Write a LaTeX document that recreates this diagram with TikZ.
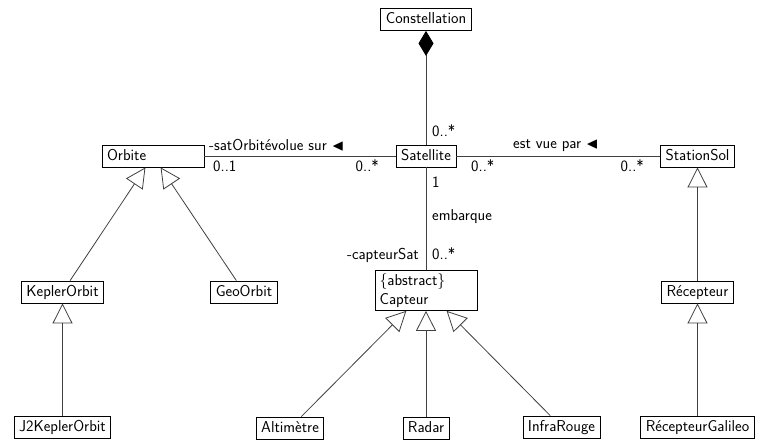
\documentclass[tikz,border=0pt]{standalone}
\usepackage{amssymb}
\usetikzlibrary{arrows.meta}
\newcommand\fsz{\sffamily\fontsize{15.8}{19}\selectfont}
\begin{document}
\begin{tikzpicture}[x=1pt,y=-1pt,
  boxbase/.style={draw, line width=0.8pt, font=\fsz, inner xsep=5pt, inner ysep=0pt},
  cls/.style={boxbase, minimum height=22pt, text height=11.5pt, text depth=3.5pt},
  lbl/.style={font=\fsz, inner sep=0pt},
  conn/.style={line width=0.8pt, draw=black!75},
  gen/.style={conn, -{Triangle[open,length=20pt,width=20pt,line width=0.8pt]}},
  comp/.style={conn, -{Diamond[length=25pt,width=15pt,fill=black,color=black]}}]
\useasboundingbox (0,0) rectangle (757,440);

% classes
\node[cls] (con) at (426,19.5) {Constellation};
\node[cls] (sat) at (426,156) {Satellite};
\node[cls, text width=92pt, align=left] (orb) at (153,156) {Orbite};
\node[cls] (sta) at (697.5,156) {StationSol};
\node[cls] (kep) at (62.5,292) {KeplerOrbit};
\node[cls] (geo) at (244,292) {GeoOrbit};
\node[cls] (rec) at (697.5,292) {Récepteur};
\node[boxbase, text width=94pt, align=left, inner xsep=4pt, inner ysep=3pt] (cap) at (426.5,290.5) {\{abstract\}\\Capteur};
\node[cls] (j2k) at (62.5,427.5) {J2KeplerOrbit};
\node[cls] (alt) at (290,428) {Altimètre};
\node[cls] (rad) at (426,428) {Radar};
\node[cls] (inf) at (561.5,427) {InfraRouge};
\node[cls] (gal) at (697.5,427.5) {RécepteurGalileo};

% composition
\draw[comp] (sat) -- (con);
% associations
\draw[conn] (orb) -- (sat);
\draw[conn] (sat) -- (sta);
\draw[conn] (sat.south) -- (sat.south |- cap.north);
% generalisations
\draw[gen] (kep) -- (orb);
\draw[gen] (geo) -- (orb);
\draw[gen] (j2k) -- (kep);
\draw[gen] (rec) -- (sta);
\draw[gen] (gal) -- (rec);
\draw[gen] (alt) -- (cap);
\draw[gen] (rad.north) -- (rad.north |- cap.south);
\draw[gen] (inf) -- (cap);

% labels
\node[lbl, anchor=base west] (l1) at (432,136) {0..*};
\node[lbl, anchor=base west] (l2) at (209,150) {-satOrbitévolue sur $\blacktriangleleft$};
\node[lbl, anchor=base west] (l3) at (213,171) {0..1};
\node[lbl, anchor=base east] (l4) at (379,171) {0..*};
\node[lbl, anchor=base west] (l5) at (513,148) {est vue par $\blacktriangleleft$};
\node[lbl, anchor=base west] (l6) at (471,171) {0..*};
\node[lbl, anchor=base east] (l7) at (644,171) {0..*};
\node[lbl, anchor=base west] (l8) at (432,187) {1};
\node[lbl, anchor=base west] (l9) at (432,220) {embarque};
\node[lbl, anchor=base east] (l10) at (419,259) {-capteurSat};
\node[lbl, anchor=base west] (l11) at (432,259) {0..*};
\end{tikzpicture}
\end{document}
